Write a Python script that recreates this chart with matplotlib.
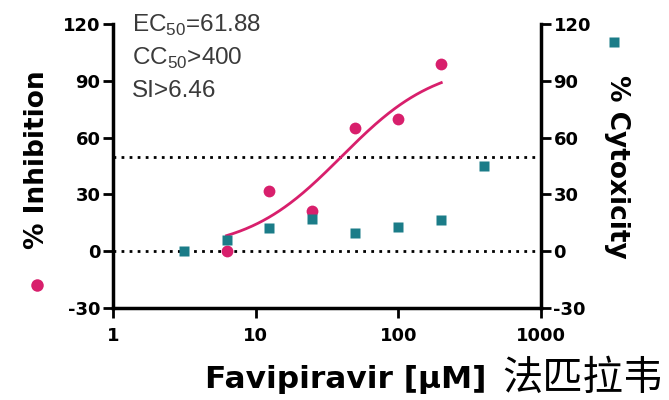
import numpy as np
import matplotlib
matplotlib.use("Agg")
import matplotlib.pyplot as plt

plt.rcParams['font.family'] = ['Liberation Sans', 'DejaVu Sans']
plt.rcParams['mathtext.fontset'] = 'custom'
plt.rcParams['mathtext.rm'] = 'Liberation Sans'
plt.rcParams['axes.unicode_minus'] = False

# Data
conc_inh = [6.25, 12.5, 25, 50, 100, 200]
inhibition = [0, 32, 21, 65, 70, 99]
conc_cyt = [3.125, 6.25, 12.5, 25, 50, 100, 200, 400]
cytotoxicity = [0, 6, 12, 17, 9.5, 12.7, 16.4, 45]
# 4PL fit parameters (as drawn)
fit_bottom, fit_top, fit_ec, fit_hill = 0.0, 100.0, 40.0, 1.3
fit_range = [6.25, 200]
yticks = [-30, 0, 30, 60, 90, 120]
xticks = [1, 10, 100, 1000]
xticklabels = ['1', '10', '100', '1000']
ref_lines = [0, 50]

pink = '#d81f6c'
teal = '#1b7c88'
boldfam = ['DejaVu Sans']

fig = plt.figure(figsize=(6.69, 4.0), dpi=100)
ax = fig.add_axes([113/669, 1-308/400, (541-113)/669, (308-24)/400])

for r in ref_lines:
    ax.axhline(r, color='black', lw=2, ls=(0, (1, 1.9)), zorder=1)

xs = np.logspace(np.log10(fit_range[0]), np.log10(fit_range[1]), 200)
ys = fit_bottom + (fit_top - fit_bottom) / (1 + (fit_ec / xs) ** fit_hill)
ax.plot(xs, ys, color=pink, lw=2, zorder=2)

ax.plot(conc_inh, inhibition, 'o', color=pink, ms=8.5, mec='none', zorder=3, clip_on=False)
ax.plot(conc_cyt, cytotoxicity, 's', color=teal, ms=7.5, mec='none', zorder=4, clip_on=False)

ax.set_xscale('log')
ax.set_xlim(1, 1000)
ax.set_ylim(-30, 120)
ax.set_xticks(xticks)
ax.set_xticklabels(xticklabels)
ax.minorticks_off()
ax.set_yticks(yticks)
ax.spines['top'].set_visible(False)
for s in ['left', 'bottom', 'right']:
    ax.spines[s].set_linewidth(2.5)
ax.tick_params(axis='both', which='major', length=7, width=2, labelsize=13, pad=2)
ax.tick_params(axis='y', right=True, labelright=True)
for lab in ax.get_xticklabels() + ax.get_yticklabels():
    lab.set_fontweight('bold')
    lab.set_family(boldfam)
ax.tick_params(axis='x', pad=7)

# texts
tc = '#3a3a3a'
ax.text(0.045, 0.995, r'EC$_{\mathregular{50}}$=61.88', transform=ax.transAxes,
        fontsize=17.5, color=tc, va='center', ha='left')
ax.text(0.045, 0.88, r'CC$_{\mathregular{50}}$>400', transform=ax.transAxes,
        fontsize=17.5, color=tc, va='center', ha='left')
ax.text(0.045, 0.765, 'SI>6.46', transform=ax.transAxes,
        fontsize=17.5, color=tc, va='center', ha='left')

fig.text(37/669, 1-160/400, '% Inhibition', rotation=90, fontsize=19, fontweight='bold',
         family=boldfam, ha='center', va='center')
fig.text(617/669, 1-167/400, '% Cytoxicity', rotation=270, fontsize=19, fontweight='bold',
         family=boldfam, ha='center', va='center')
fig.text(346/669, 1-380/400, 'Favipiravir [µM]', fontsize=22.5, fontweight='bold',
         family=boldfam, ha='center', va='center')
fig.text(583/669, 1-378/400, '法匹拉韦', fontsize=29, family=['Noto Sans CJK SC', 'DejaVu Sans'],
         ha='center', va='center')

# legend markers
fig.lines.append(matplotlib.lines.Line2D([37/669], [1-285/400], marker='o', color=pink, ms=9,
                                         mec='none', transform=fig.transFigure))
fig.lines.append(matplotlib.lines.Line2D([614/669], [1-42/400], marker='s', color=teal, ms=7.5,
                                         mec='none', transform=fig.transFigure))

fig.savefig('out.png', dpi=100)
